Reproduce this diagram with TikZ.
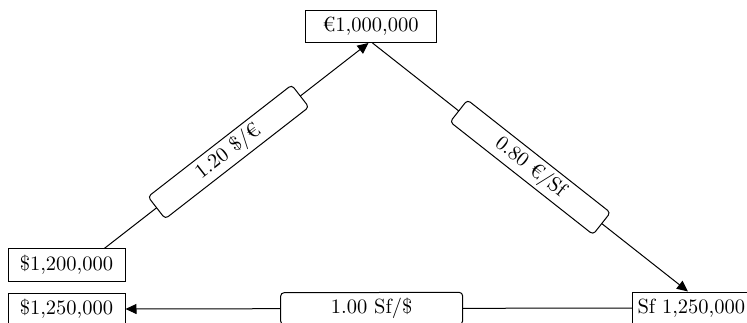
\documentclass[tikz,border=0pt]{standalone}
\usepackage{fontspec}
\setmainfont{lmroman10-regular}[Extension=.otf]
\usetikzlibrary{arrows.meta,calc}
\begin{document}
\begin{tikzpicture}[x=1pt,y=-1pt,
  amount/.style={draw,line width=1pt,fill=white,inner sep=0pt,
    minimum height=32pt,font=\fontsize{20.5}{24}\selectfont},
  rate/.style={draw,line width=1pt,fill=white,rounded corners=3.5pt,inner sep=0pt,
    minimum width=182pt,minimum height=28pt,sloped,font=\fontsize{20.5}{24}\selectfont},
  flow/.style={line width=1pt,-{Triangle[length=11pt,width=10pt]}}]
  \useasboundingbox (0,0) rectangle (747,323);
  \begin{scope}
    \clip (0,0) rectangle (747,323);
    % currency amounts
    \node[amount,minimum width=131pt] (eur) at (370.5,26.5) {€1,000,000};
    \node[amount,minimum width=117pt] (usdA) at (66.5,265) {\$1,200,000};
    \node[amount,minimum width=117pt] (usdB) at (66.5,309) {\$1,250,000};
    \node[amount,anchor=west,inner xsep=5pt,text width=120pt,align=left] (sf) at (632,308) {Sf 1,250,000};
    % connection points on the boxes
    \coordinate (a1) at ($(usdA.north)!0.64!(usdA.north east)$);
    \coordinate (a2) at ([xshift=-2pt]eur.south);
    \coordinate (b1) at ([xshift=2pt]eur.south);
    \coordinate (b2) at ($(sf.north west)+(56,0)$);
    % conversions
    \draw[flow] (a1) -- node[rate,pos=0.47] (r1) {1.20 \$/€} (a2);
    \draw[flow] (b1) -- node[rate,pos=0.5] (r2) {0.80 €/Sf} (b2);
    \draw[flow] (sf.west) -- node[rate,pos=0.514,minimum height=32pt] (r3) {1.00 Sf/\$} (usdB.east);
  \end{scope}
\end{tikzpicture}
\end{document}
